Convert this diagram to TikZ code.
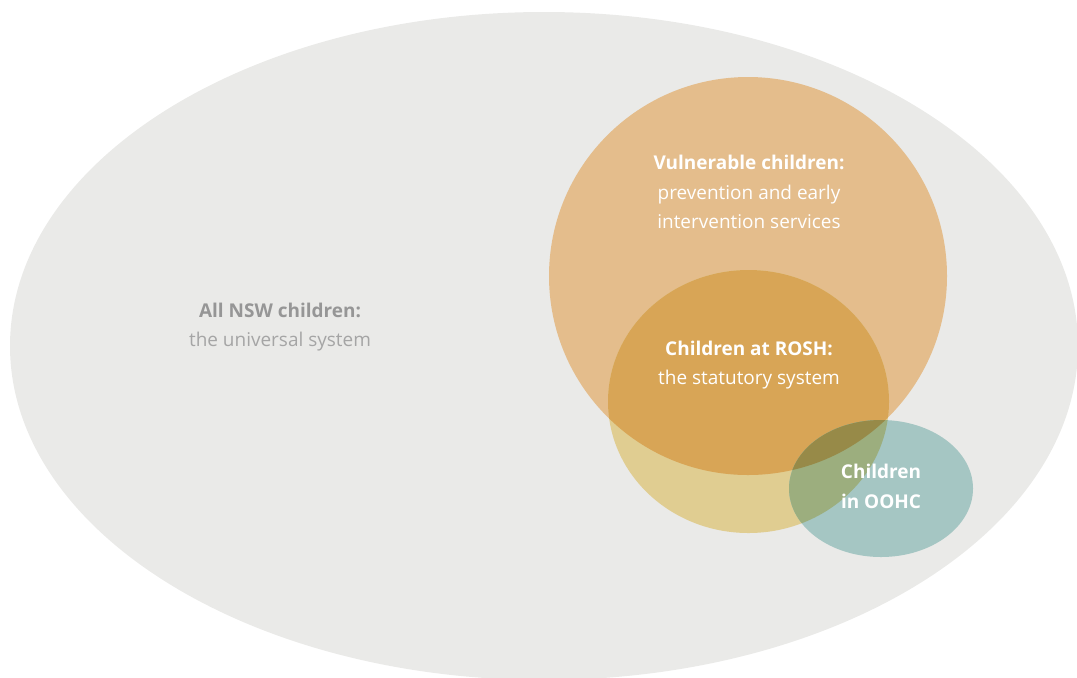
\documentclass[tikz,border=0pt]{standalone}
\usepackage{fontspec}
\setmainfont{Open Sans}
\usetikzlibrary{positioning}

\definecolor{allfill}{RGB}{234,234,232}
\definecolor{vulnfill}{RGB}{228,189,140}
\definecolor{roshfill}{RGB}{224,205,145}
\definecolor{vrfill}{RGB}{216,165,86}
\definecolor{oohcfill}{RGB}{165,198,195}
\definecolor{ovfill}{RGB}{161,160,117}
\definecolor{orfill}{RGB}{156,174,126}
\definecolor{ovrfill}{RGB}{151,138,72}
\definecolor{alltext}{RGB}{150,150,150}
\definecolor{allsub}{RGB}{165,165,165}

\begin{document}
\begin{tikzpicture}[x=0.02cm,y=-0.02cm,
        txt/.style={align=center,inner sep=0pt,text=white,
            font=\fontsize{10.8}{17}\selectfont}]

        \useasboundingbox (0,0) rectangle (1077,677);

        \coordinate (allc) at (544,346);
        \coordinate (vulnc) at (748,276);
        \coordinate (roshc) at (748.5,401.5);
        \coordinate (oohcc) at (881,488.5);

        % the universal system
        \begin{scope}
            \clip (0,0) rectangle (1077,677);
            \fill[allfill] (allc) ellipse [x radius=534, y radius=334];
        \end{scope}

        \fill[vulnfill] (vulnc) circle [radius=199];
        \fill[roshfill] (roshc) ellipse [x radius=140.5, y radius=131.5];
        \begin{scope}
            \clip (roshc) ellipse [x radius=140.5, y radius=131.5];
            \fill[vrfill] (vulnc) circle [radius=199];
        \end{scope}

        \fill[oohcfill] (oohcc) ellipse [x radius=92, y radius=68.5];
        \begin{scope}
            \clip (oohcc) ellipse [x radius=92, y radius=68.5];
            \fill[ovfill] (vulnc) circle [radius=199];
            \fill[orfill] (roshc) ellipse [x radius=140.5, y radius=131.5];
            \clip (roshc) ellipse [x radius=140.5, y radius=131.5];
            \fill[ovrfill] (vulnc) circle [radius=199];
        \end{scope}

        \node[txt, text=allsub] (all) at (280,327)
            {\textbf{\color{alltext}All NSW children:}\\the universal system};
        \node[txt] (vuln) at (749,192)
            {\textbf{Vulnerable children:}\\prevention and early\\intervention services};
        \node[txt] (rosh) at (749,365)
            {\textbf{Children at ROSH:}\\the statutory system};
        \node[txt] (oohc) at (881,486)
            {\textbf{Children}\\\textbf{in OOHC}};

    \end{tikzpicture}
\end{document}
